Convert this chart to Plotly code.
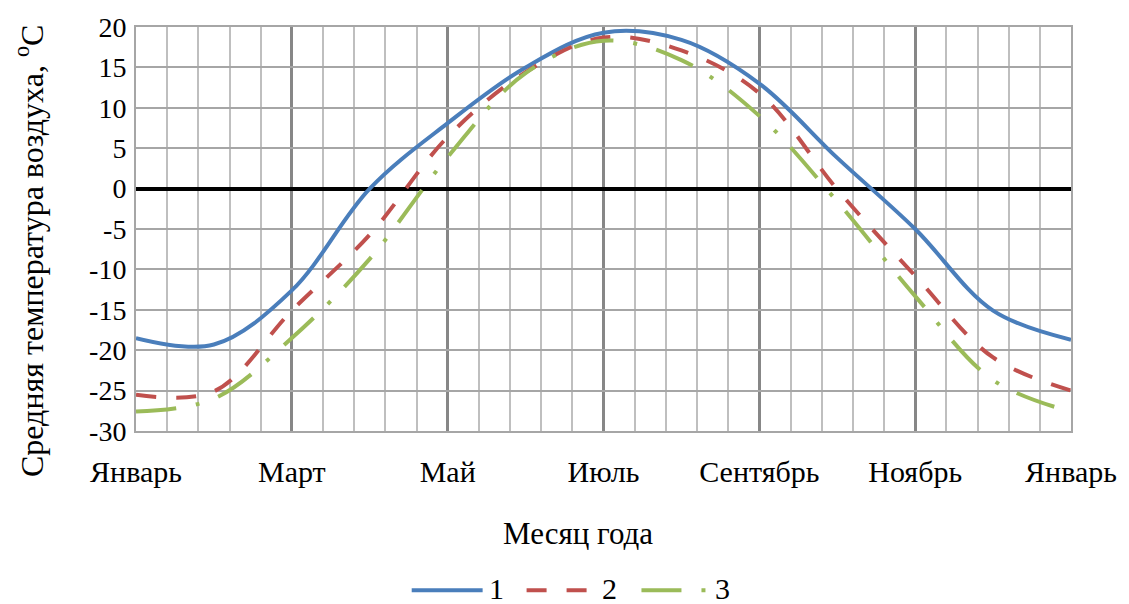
import plotly.graph_objects as go

# Month positions (0 = January, 12 = next January)
months = [0, 1, 2, 3, 4, 5, 6, 7, 8, 9, 10, 11, 12]
tick_vals = [0, 2, 4, 6, 8, 10, 12]
tick_text = ["Январь", "Март", "Май", "Июль", "Сентябрь", "Ноябрь", "Январь"]
y_vals = [20, 15, 10, 5, 0, -5, -10, -15, -20, -25, -30]
y_text = ["20", "15", "10", "5", "0", "-5", "-10", "-15", "-20", "-25", "-30"]

# Mean monthly air temperature, °C
series_1 = [-18.5, -19.3, -12.6, 0.0, 8.1, 15.0, 19.3, 18.4, 13.0, 3.8, -5.0, -15.1, -18.7]
series_2 = [-25.5, -25.1, -15.1, -5.7, 6.4, 14.4, 18.7, 17.1, 11.8, -0.1, -10.8, -20.9, -25.0]
series_3 = [-27.6, -26.0, -18.5, -8.7, 3.9, 14.3, 18.3, 15.9, 9.0, -1.6, -13.3, -23.7, -27.6]

names = ["1", "2", "3"]
colors = ["#4A7EBB", "#C0504D", "#9BBB59"]
dashes = ["solid", "20px,20px", "40px,20px,4px,20px"]

FONT = "Liberation Serif"
W, H = 1129, 604
L, R, T, B = 136, 57, 25, 173
PW, PH = W - L - R, H - T - B

fig = go.Figure()
for ys, name, col, dash in zip([series_1, series_2, series_3], names, colors, dashes):
    fig.add_trace(go.Scatter(
        x=months, y=ys, name=name, mode="lines",
        line=dict(color=col, width=4, dash=dash, shape="spline", smoothing=1.0),
        showlegend=False,
    ))


def px_x(p):
    return (p - L) / PW


def px_y(p):
    return (H - B - p) / PH


# Legend drawn below the axis title
legend_y = 591
items = [(412, 483, 497), (527, 588, 610), (642, 710, 723)]
for (x0, x1, xt), name, col, dash in zip(items, names, colors, dashes):
    fig.add_shape(type="line", xref="paper", yref="paper",
                  x0=px_x(x0), x1=px_x(x1), y0=px_y(legend_y), y1=px_y(legend_y),
                  line=dict(color=col, width=4, dash=dash))
    fig.add_annotation(xref="paper", yref="paper", x=px_x(xt), y=px_y(589),
                       text=name, showarrow=False, xanchor="center", yanchor="middle",
                       font=dict(family=FONT, size=30, color="black"))

fig.add_annotation(xref="paper", yref="paper", x=px_x(578), y=px_y(534),
                   text="Месяц года", showarrow=False, xanchor="center", yanchor="middle",
                   font=dict(family=FONT, size=31, color="black"))
fig.add_annotation(xref="paper", yref="paper", x=px_x(29), y=px_y(250),
                   text="Средняя температура воздуха, <sup>o</sup>С", textangle=-90,
                   showarrow=False, xanchor="center", yanchor="middle",
                   font=dict(family=FONT, size=32, color="black"))

fig.update_layout(
    width=W, height=H,
    margin=dict(l=L, r=R, t=T, b=B),
    paper_bgcolor="white", plot_bgcolor="white",
    font=dict(family=FONT, size=28, color="black"),
    xaxis=dict(
        range=[0, 12], tickvals=tick_vals, ticktext=tick_text,
        showgrid=True, gridcolor="#878787", gridwidth=3,
        minor=dict(dtick=0.4, tick0=0, showgrid=True, gridcolor="#BFBFBF", gridwidth=2),
        ticks="", zeroline=False, showline=True, linecolor="#A6A6A6", linewidth=2,
        mirror=True, ticklabelstandoff=13,
        tickfont=dict(family=FONT, size=30),
    ),
    yaxis=dict(
        range=[-30, 20], tickvals=y_vals, ticktext=y_text,
        showgrid=True, gridcolor="#A6A6A6", gridwidth=2,
        zeroline=True, zerolinecolor="black", zerolinewidth=4,
        ticks="", showline=True, linecolor="#A6A6A6", linewidth=2, mirror=True,
        ticklabelstandoff=2,
        tickfont=dict(family=FONT, size=28),
    ),
)

fig.write_html("out.html")
